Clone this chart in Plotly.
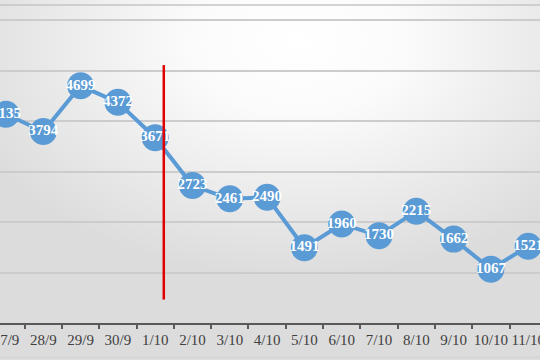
import base64
import plotly.graph_objects as go

categories = ["27/9", "28/9", "29/9", "30/9", "1/10", "2/10", "3/10", "4/10",
              "5/10", "6/10", "7/10", "8/10", "9/10", "10/10", "11/10"]
values = [4135, 3794, 4699, 4372, 3671, 2723, 2461, 2490,
          1491, 1960, 1730, 2215, 1662, 1067, 1521]

# red marker line (between 1/10 and 2/10)
RED_X = 4.23
RED_Y0, RED_Y1 = 465, 5110

xs = list(range(len(categories)))

svg = """<svg xmlns='http://www.w3.org/2000/svg' width='600' height='400' preserveAspectRatio='none'>
<defs><radialGradient id='g' cx='0.55' cy='0.12' r='0.65' gradientUnits='objectBoundingBox'>
<stop offset='0' stop-color='#ffffff'/>
<stop offset='0.3' stop-color='#fbfbfb'/>
<stop offset='1' stop-color='#dcdcdc'/>
</radialGradient></defs>
<rect width='600' height='400' fill='url(#g)'/></svg>"""
bg_uri = "data:image/svg+xml;base64," + base64.b64encode(svg.encode()).decode()

fig = go.Figure()
fig.add_trace(go.Scatter(
    x=xs, y=values, mode="lines+markers+text",
    line=dict(color="#5b9bd5", width=4),
    marker=dict(size=27, color="#5b9bd5"),
    text=[str(v) for v in values], textposition="middle center",
    textfont=dict(family="Liberation Serif", size=15, color="white", weight="bold"),
    hoverinfo="skip", showlegend=False, cliponaxis=False,
))

fig.add_shape(type="line", xref="x", yref="y", x0=RED_X, x1=RED_X, y0=RED_Y0, y1=RED_Y1,
              line=dict(color="#e00000", width=2.5))
fig.add_shape(type="line", xref="paper", yref="paper", x0=0, x1=1, y0=1, y1=1,
              line=dict(color="#c4c4c4", width=1.5))
fig.add_shape(type="line", xref="paper", yref="paper", x0=0, x1=1, y0=-0.108, y1=-0.108,
              line=dict(color="#d0d0d0", width=1))

fig.update_layout(
    width=540, height=360,
    margin=dict(l=0, r=0, t=5, b=37, autoexpand=False),
    paper_bgcolor="#e6e6e6",
    plot_bgcolor="rgba(0,0,0,0)",
    images=[dict(source=bg_uri, xref="paper", yref="paper", x=-0.01, y=1.02,
                 sizex=1.02, sizey=1.14, sizing="stretch", layer="below")],
    xaxis=dict(
        range=[-0.161, 14.316], tickmode="array", tickvals=xs, ticktext=categories,
        ticks="", showgrid=False, zeroline=False, automargin=False,
        ticklabeloverflow="allow", ticklabelstandoff=2,
        showline=True, linecolor="#595959", linewidth=2,
        tickfont=dict(family="Liberation Serif", size=15, color="#404040"),
        minor=dict(tickmode="array", tickvals=[i + 0.5 for i in range(-1, len(categories))],
                   ticks="outside", ticklen=4, tickwidth=1.5, tickcolor="#595959", showgrid=False),
    ),
    yaxis=dict(
        range=[0, 6300], dtick=1000, showticklabels=False, ticks="",
        showgrid=True, gridcolor="#cccccc", gridwidth=1.5, zeroline=False, automargin=False,
    ),
)

fig.write_html("out.html", config={"displayModeBar": False},
               post_script="document.body.style.margin='0';document.body.style.overflow='hidden';")
